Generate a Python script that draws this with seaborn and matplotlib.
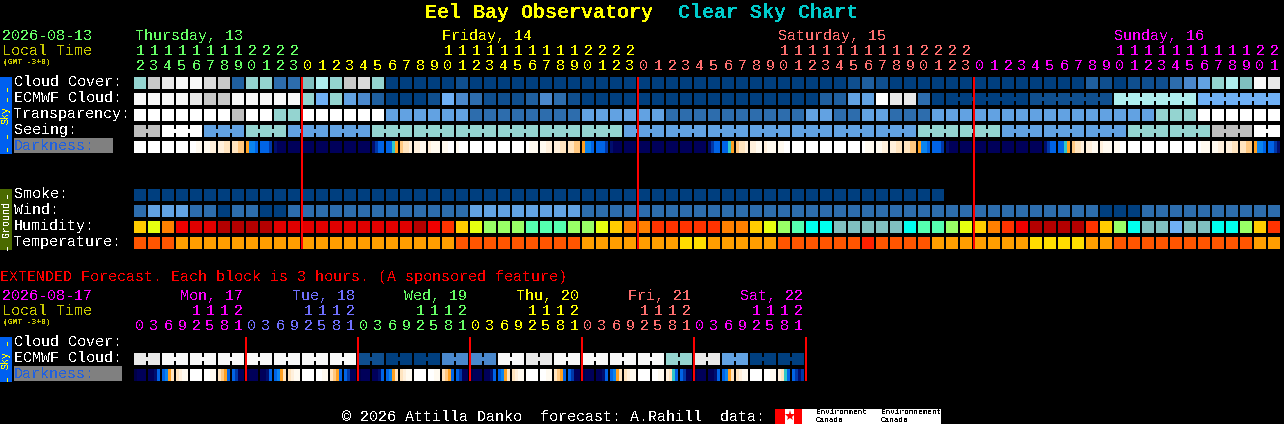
import numpy as np
import matplotlib
matplotlib.use('Agg')
import matplotlib.pyplot as plt
from matplotlib.colors import ListedColormap
import seaborn as sns

W, H = 1284, 424
nan = float('nan')

# cloud / transparency / seeing / wind colour scale, dark blue (clear) to white
SKY_COLORS = ['#003f7f', '#0f4f8f', '#1f5f9f', '#2d6dad', '#4a88cc', '#62a2e2', '#6fb0f5', '#7fbfbf',
              '#94d4d0', '#aeeeee', '#bebebe', '#c8c8c8', '#dadada', '#e9e9e9', '#f8f8f8', '#ffffff']
HUMIDITY_COLORS = ['#b40000', '#e00000', '#f00000', '#ff3300', '#ff8000', '#ffcc00', '#e6ff10', '#99ff66',
                   '#55ffb0', '#00ffee', '#80bfbf', '#70b0f5']
TEMP_COLORS = ['#ff2000', '#ff5500', '#ff9e00', '#ffdd00']
DARK_COLORS = ['#ffffff', '#fffaf0', '#fff0dc', '#ffe4bf', '#ffc880', '#ffa020', '#30c8c8', '#0a84f0',
               '#0064e6', '#0038a8', '#000e6e', '#00005a', '#000048']

# hourly rows, one line per day (Thu from 12h, Fri, Sat, Sun to 21h)
CLOUD_COVER = [8, 11, 13, 14, 14, 12, 11, 2, 8, 8, 3, 3,
               7, 9, 8, 11, 12, 8, 0, 0, 0, 0, 0, 1, 0, 0, 0, 0, 0, 0, 0, 0, 0, 0, 0, 0,
               0, 0, 0, 0, 0, 0, 0, 0, 0, 0, 0, 0, 0, 0, 0, 1, 2, 1, 0, 0, 0, 0, 0, 0,
               0, 0, 0, 0, 0, 0, 0, 0, 2, 1, 0, 1, 1, 1, 3, 4, 5, 8, 9, 7, 14, 13]
ECMWF = [14, 14, 14, 14, 13, 11, 11, 14, 14, 14, 14, 14,
         8, 6, 8, 5, 4, 2, 0, 0, 0, 1, 6, 4, 3, 1, 1, 1, 2, 4, 3, 1, 0, 0, 0, 0,
         0, 0, 0, 0, 0, 0, 0, 0, 0, 0, 0, 0, 0, 2, 2, 5, 5, 15, 13, 13, 3, 0, 0, 0,
         0, 0, 0, 0, 1, 1, 1, 1, 1, 1, 9, 9, 9, 9, 9, 9, 6, 6, 6, 6, 6, 6]
ECMWF_GROUPS = [1] * 58 + [6, 6, 6, 6]
TRANSPARENCY = [15, 15, 15, 15, 15, 15, 15, 10, 15, 15, 8, 8,
                15, 15, 15, 15, 15, 15, 5, 5, 5, 5, 5, 5, 3, 3, 3, 3, 3, 3, 3, 3, 5, 5, 5, 5,
                5, 5, 3, 3, 3, 3, 3, 3, 3, 3, 3, 3, 5, 5, 3, 3, 5, 5, 3, 3, 3, 5, 5, 5,
                5, 5, 5, 5, 5, 5, 5, 5, 5, 5, 5, 5, 5, 8, 8, 8, 15, 15, 15, 15, 15, 15]
SEEING = [10, 10, 15, 15, 15, 5, 5, 5, 8, 8, 8, 5,
          5, 5, 5, 5, 5, 8, 8, 8, 8, 8, 8, 8, 8, 8, 8, 8, 8, 8, 8, 8, 8, 8, 8, 5,
          5, 5, 5, 5, 5, 5, 5, 5, 5, 5, 5, 5, 5, 5, 5, 5, 5, 5, 5, 5, 8, 8, 8, 8,
          8, 8, 5, 5, 5, 5, 5, 5, 5, 5, 5, 8, 8, 8, 8, 8, 8, 10, 10, 10, 15, 15]
SEEING_GROUPS = [2] + [3] * 26 + [2]
SMOKE = [0] * 58 + [nan] * 24
WIND = [3, 5, 5, 5, 3, 3, 0, 3, 3, 0, 0, 3,
        3, 3, 3, 3, 3, 3, 3, 3, 3, 3, 3, 3, 5, 5, 5, 5, 5, 5, 5, 5, 3, 3, 3, 3,
        3, 3, 3, 3, 3, 3, 3, 3, 3, 3, 3, 3, 3, 3, 3, 3, 3, 3, 3, 3, 3, 3, 3, 3,
        3, 3, 3, 3, 3, 3, 3, 3, 3, 0, 0, 0, 3, 3, 3, 3, 3, 3, 3, 3, 3, 3]
HUMIDITY = [5, 6, 4, 2, 1, 1, 0, 0, 0, 0, 1, 1,
            1, 1, 1, 1, 1, 1, 1, 1, 0, 2, 3, 5, 6, 7, 7, 7, 8, 8, 8, 7, 7, 6, 5, 4,
            4, 3, 3, 3, 3, 3, 4, 4, 5, 6, 7, 8, 9, 9, 10, 10, 10, 10, 10, 9, 8, 8, 7, 6,
            5, 4, 3, 2, 0, 0, 0, 0, 3, 5, 7, 9, 10, 10, 11, 10, 10, 9, 9, 7, 5, 3]
TEMPERATURE = [1, 1, 1, 2, 2, 2, 2, 2, 2, 2, 2, 2,
               2, 2, 2, 2, 2, 2, 2, 2, 2, 2, 2, 1, 1, 1, 1, 1, 1, 1, 1, 1, 2, 2, 2, 2,
               2, 2, 2, 3, 3, 2, 2, 2, 2, 2, 1, 1, 1, 1, 1, 1, 0, 1, 1, 1, 1, 2, 2, 2,
               2, 2, 2, 2, 3, 3, 3, 3, 2, 2, 1, 1, 1, 1, 1, 1, 1, 1, 1, 1, 2, 2]
# darkness: four samples per block, one hex digit each into DARK_COLORS
DARKNESS = ('0000 0000 0000 0000 0011 1122 2233 3344 5778 8889 abbb bbbb '
            'bbbb bbbb bbbb bbbb bbbb a988 8865 4332 2211 2111 1100 1000 '
            '0000 0000 0000 0000 0111 1122 2233 3344 5778 8889 abbb bbbb '
            'bbbb bbbb bbbb bbbb bbbb a988 8865 4332 2211 2111 1100 0000 '
            '0000 0000 0000 0000 0111 1122 2233 3344 5778 8889 abbb bbbb '
            'bbbb bbbb bbbb bbbb bbbb a988 8865 4332 2211 2111 1100 0000 '
            '0000 0000 0000 0000 0111 1122 2233 3344 5778 889a')

# extended rows, 3 hour blocks, eight per day
EXT_ECMWF = [13, 13, 14, 14, 14, 14, 14, 14,
             14, 14, 14, 14, 14, 14, 14, 14,
             1, 1, 0, 0, 0, 0, 4, 4,
             4, 4, 14, 14, 13, 13, 14, 14,
             14, 14, 14, 14, 14, 14, 8, 8,
             13, 13, 5, 5, 0, 0, 0, 0]
EXT_GROUPS = [2] * 24
EXT_DARKNESS = ('cbbb bba8 8753 3211 0000 0011 3458 89bb '
                'cbbb bba8 8753 3211 0000 0011 3458 89bb '
                'cbbb bba8 8753 3211 0000 0011 3458 89bb '
                'cbbb bba8 8753 3211 0000 0011 3458 89bb '
                'cbbb bba8 8753 3211 0000 0011 2368 89bb '
                'cbbb bba8 8753 3211 0000 0011 2368 89a9')

HOURS = [12, 13, 14, 15, 16, 17, 18, 19, 20, 21, 22, 23] + list(range(24)) * 2 + list(range(22))
HOUR_DAY = [0] * 12 + [1] * 24 + [2] * 24 + [3] * 22
DAY_COLORS = ['#66ff66', '#ffff00', '#ff7070', '#ff00ff']
DAY_LABELS = ['Thursday, 13', 'Friday, 14', 'Saturday, 15', 'Sunday, 16']
DAY_LABEL_AT = [0.07, 22, 46, 70]
MIDNIGHTS = [12, 36, 60]

EXT_HOURS = [0, 3, 6, 9, 12, 15, 18, 21]
EXT_COLORS = ['#ff00ff', '#7070ff', '#66ff66', '#ffff00', '#ff7070', '#ff00ff']
EXT_LABELS = ['Mon, 17', 'Tue, 18', 'Wed, 19', 'Thu, 20', 'Fri, 21', 'Sat, 22']
EXT_MIDNIGHTS = [8, 16, 24, 32, 40, 48]

sns.set_theme(style='white')
plt.rcParams['font.family'] = ['Liberation Mono', 'DejaVu Sans Mono']
plt.rcParams['figure.facecolor'] = 'black'
plt.rcParams['text.antialiased'] = False

fig = plt.figure(figsize=(W / 100, H / 100), dpi=100, facecolor='black')


def draw_grid(grid, top, colors):
    # one heatmap cell per picture pixel, NaN stays black
    ax = fig.add_axes([134 / W, 1 - (top + grid.shape[0]) / H, grid.shape[1] / W, grid.shape[0] / H])
    ax.set_facecolor('black')
    sns.heatmap(grid, ax=ax, cmap=ListedColormap(colors), vmin=-0.5, vmax=len(colors) - 0.5,
                cbar=False, xticklabels=False, yticklabels=False)


def blocks_row(values, top, colors, groups=None):
    grid = np.full((12, len(values) * 14), nan)
    for i, v in enumerate(values):
        grid[:, i * 14:i * 14 + 12] = v
    if groups:
        # narrow necks join the blocks of one forecast period
        start = 0
        for size in groups:
            for i in range(start, start + size - 1):
                grid[4:8, i * 14 + 12:i * 14 + 14] = values[i]
            start += size
    draw_grid(grid, top, colors)


def darkness_row(samples, top):
    blocks = samples.split()
    grid = np.full((12, len(blocks) * 14), nan)
    for i, block in enumerate(blocks):
        for j, c in enumerate(block):
            grid[:, i * 14 + j * 3:i * 14 + j * 3 + 3] = int(c, 16)
    draw_grid(grid, top, DARK_COLORS)


blocks_row(CLOUD_COVER, 77, SKY_COLORS)
blocks_row(ECMWF, 93, SKY_COLORS, ECMWF_GROUPS)
blocks_row(TRANSPARENCY, 109, SKY_COLORS)
blocks_row(SEEING, 125, SKY_COLORS, SEEING_GROUPS)
darkness_row(DARKNESS, 141)
blocks_row(SMOKE, 189, SKY_COLORS)
blocks_row(WIND, 205, SKY_COLORS)
blocks_row(HUMIDITY, 221, HUMIDITY_COLORS)
blocks_row(TEMPERATURE, 237, TEMP_COLORS)
blocks_row(EXT_ECMWF, 353, SKY_COLORS, EXT_GROUPS)
darkness_row(EXT_DARKNESS, 369)


def block_axes(n):
    # x in block numbers, y in picture pixels
    ax = fig.add_axes([134 / W, 0, n * 14 / W, 1])
    ax.set_xlim(0, n)
    ax.set_ylim(H, 0)
    ax.axis('off')
    return ax


main = block_axes(len(HOURS))
main.bar(MIDNIGHTS, 172, bottom=77, width=2 / 14, color='#ff0000', linewidth=0)
for i, (hour, day) in enumerate(zip(HOURS, HOUR_DAY)):
    if hour >= 10:
        main.text(i + 0.43, 51, str(hour // 10), color=DAY_COLORS[day], fontsize=10.8, ha='center', va='center')
    main.text(i + 0.43, 66, str(hour % 10), color=DAY_COLORS[day], fontsize=10.8, ha='center', va='center')
for at, label_text, color in zip(DAY_LABEL_AT, DAY_LABELS, DAY_COLORS):
    main.text(at, 36, label_text, color=color, fontsize=10.8, va='center')

ext = block_axes(len(EXT_ECMWF))
ext_bars = ext.bar(EXT_MIDNIGHTS, 44, bottom=337, width=2 / 14, color='#ff0000', linewidth=0)
for b in ext_bars:
    b.set_clip_on(False)
for d, (label_text, color) in enumerate(zip(EXT_LABELS, EXT_COLORS)):
    ext.text(d * 8 + 3.29, 296, label_text, color=color, fontsize=10.8, va='center')
    for j, hour in enumerate(EXT_HOURS):
        if hour >= 10:
            ext.text(d * 8 + j + 0.43, 311, str(hour // 10), color=color, fontsize=10.8, ha='center', va='center')
        ext.text(d * 8 + j + 0.43, 326, str(hour % 10), color=color, fontsize=10.8, ha='center', va='center')

# page furniture in pixel coordinates
page = fig.add_axes([0, 0, 1, 1])
page.set_xlim(0, W)
page.set_ylim(H, 0)
page.axis('off')


def box(x0, x1, y0, y1, color):
    page.fill_between([x0, x1], y0, y1, color=color, linewidth=0)


def label(x, y, text, color='white', size=10.8, **kw):
    page.text(x, y + 1, text, color=color, fontsize=size, va='center', **kw)


def bar_text(y, text, color, size=7.2):
    page.text(6, y, text, color=color, fontsize=size, rotation=90, ha='center', va='center')


label(425, 11, 'Eel Bay Observatory', '#ffff00', 14.4, fontweight='bold')
label(678, 11, 'Clear Sky Chart', '#00cccc', 14.4, fontweight='bold')

label(2, 35, '2026-08-13', '#66ff66')
label(2, 50, 'Local Time', '#c8c800')
label(3, 61, '(GMT -3+0)', '#c8c800', 5.8, fontweight='bold')
label(2, 295, '2026-08-17', '#ff00ff')
label(2, 310, 'Local Time', '#c8c800')
label(3, 321, '(GMT -3+0)', '#c8c800', 5.8, fontweight='bold')
label(0, 276, 'EXTENDED Forecast. Each block is 3 hours. (A sponsored feature)', '#ff0000')

for y, text in zip([81, 97, 113, 129, 193, 209, 225, 241, 341, 357],
                   ['Cloud Cover:', 'ECMWF Cloud:', 'Transparency:', 'Seeing:', 'Smoke:', 'Wind:',
                    'Humidity:', 'Temperature:', 'Cloud Cover:', 'ECMWF Cloud:']):
    label(14, y, text)
box(14, 113, 138, 153, '#808080')
label(14, 145, 'Darkness:', '#2060e0')
box(14, 122, 366, 381, '#808080')
label(14, 373, 'Darkness:', '#2060e0')

box(0, 12, 77, 154, '#0060f0')
for y in [86.5, 96.5, 133.5, 146.5]:
    bar_text(y, '-', '#ffff00', 10)
bar_text(115, 'Sky', '#ffff00')
box(0, 12, 189, 250, '#4b6a00')
for y in [194, 246]:
    bar_text(y, '-', 'white', 10)
bar_text(219, 'Ground', 'white')
box(0, 12, 337, 382, '#0060f0')
for y in [340.5, 376.5]:
    bar_text(y, '-', '#ffff00', 10)
bar_text(360, 'Sky', '#ffff00')

label(342, 416, '\u00a9 2026 Attilla Danko  forecast: A.Rahill  data:')
box(785, 941, 409, 424, 'white')
box(775, 785, 409, 424, '#ff0000')
box(794, 802, 409, 424, '#ff0000')
page.plot([789.5], [416], marker='*', color='#ff0000', markersize=8, markeredgewidth=0)
label(816, 412, 'Environment', 'black', 5.6)
label(816, 419, 'Canada', 'black', 5.6)
label(881, 412, 'Environnement', 'black', 5.6)
label(881, 419, 'Canada', 'black', 5.6)

fig.savefig('out.png', dpi=100, facecolor='black')
